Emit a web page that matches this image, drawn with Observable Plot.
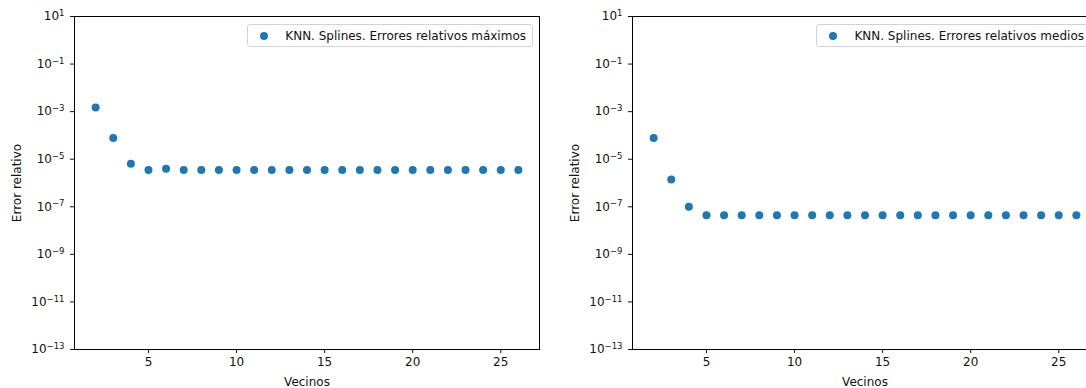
<!DOCTYPE html>
<html>
<head>
<meta charset="utf-8">
<script src="https://cdn.jsdelivr.net/npm/d3@7"></script>
<script src="https://cdn.jsdelivr.net/npm/@observablehq/plot@0.6"></script>
<style>
  html, body { margin: 0; padding: 0; background: #fff; }
  #fig { position: relative; width: 1086px; height: 388px; overflow: hidden; font-family: "DejaVu Sans", sans-serif; }
  .panel { position: absolute; top: 0; width: 560px; height: 388px; }
  .panel svg { max-width: none !important; }
  .legend {
    position: absolute; top: 24px; height: 23px; box-sizing: border-box;
    border: 1px solid #d3d3d3; border-radius: 3px; background: rgba(255,255,255,0.8);
    display: flex; align-items: center; font-size: 12px; color: #111; white-space: nowrap;
    padding-right: 6px;
  }
  .legend .sw { display: inline-block; width: 8px; height: 8px; border-radius: 50%; background: #1f77b4; margin: 0 17px 0 12px; }
</style>
</head>
<body>
<div id="fig"></div>
<script>
// Number of neighbours used by the KNN spline model
const vecinos = [2, 3, 4, 5, 6, 7, 8, 9, 10, 11, 12, 13, 14, 15, 16, 17, 18, 19, 20, 21, 22, 23, 24, 25, 26];

// Maximum relative error for each neighbour count
const erroresMaximos = [
  1.5e-3, 7.8e-5, 6.5e-6, 3.5e-6, 4.0e-6, 3.5e-6, 3.5e-6, 3.5e-6, 3.5e-6, 3.5e-6,
  3.5e-6, 3.5e-6, 3.5e-6, 3.5e-6, 3.5e-6, 3.5e-6, 3.5e-6, 3.5e-6, 3.5e-6, 3.5e-6,
  3.5e-6, 3.5e-6, 3.5e-6, 3.5e-6, 3.5e-6
];

// Mean relative error for each neighbour count
const erroresMedios = [
  7.8e-5, 1.4e-6, 1.0e-7, 4.4e-8, 4.4e-8, 4.4e-8, 4.4e-8, 4.4e-8, 4.4e-8, 4.4e-8,
  4.4e-8, 4.4e-8, 4.4e-8, 4.4e-8, 4.4e-8, 4.4e-8, 4.4e-8, 4.4e-8, 4.4e-8, 4.4e-8,
  4.4e-8, 4.4e-8, 4.4e-8, 4.4e-8, 4.4e-8
];

const xTicks = [5, 10, 15, 20, 25];
const yTicks = [1e1, 1e-1, 1e-3, 1e-5, 1e-7, 1e-9, 1e-11, 1e-13];

const leyendas = [
  "KNN. Splines. Errores relativos máximos",
  "KNN. Splines. Errores relativos medios"
];

const fig = document.getElementById("fig");

function panel(values, svgLeft, legendText) {
  const data = vecinos.map((v, i) => ({v, e: values[i]}));
  const chart = Plot.plot({
    width: 560,
    height: 388,
    marginLeft: 74,
    marginRight: 21,
    marginTop: 16,
    marginBottom: 39,
    style: {fontFamily: "DejaVu Sans, sans-serif", fontSize: "12px", color: "#111", background: "transparent", maxWidth: "none"},
    x: {domain: [0.8, 27.2]},
    y: {type: "log", domain: [1e-13, 1e1]},
    marks: [
      Plot.axisX({
        ticks: xTicks, tickSize: 4, tickPadding: 4, tickFormat: d => String(d),
        label: "Vecinos", labelAnchor: "center", labelOffset: 36, labelArrow: "none"
      }),
      Plot.axisY({
        ticks: yTicks, tickSize: 4, tickPadding: 6,
        tickFormat: d => "10^" + String(Math.round(Math.log10(d))).replace("-", "\u2212"),
        label: "Error relativo", labelAnchor: "center", labelOffset: 62, labelArrow: "none"
      }),
      Plot.frame({stroke: "#000", strokeWidth: 1}),
      Plot.dot(data, {x: "v", y: "e", r: 4, fill: "#1f77b4", stroke: "none"})
    ]
  });

  // Render the power-of-ten tick labels with a raised exponent
  d3.select(chart).selectAll('g[aria-label="y-axis tick label"] text').each(function () {
    const parts = this.textContent.split("^");
    if (parts.length !== 2) return;
    const t = d3.select(this);
    t.text(null);
    t.append("tspan").text(parts[0]);
    t.append("tspan").attr("font-size", "8.5px").attr("dy", "-0.5em").text(parts[1]);
  });

  const wrap = document.createElement("div");
  wrap.className = "panel";
  wrap.style.left = svgLeft + "px";
  wrap.appendChild(chart);
  fig.appendChild(wrap);

  const leg = document.createElement("div");
  leg.className = "legend";
  // upper-right placement, inset 6px from the plot frame
  const frameRight = svgLeft + 560 - 21;
  leg.style.right = (1086 - (frameRight - 6)) + "px";
  const sw = document.createElement("span");
  sw.className = "sw";
  leg.appendChild(sw);
  leg.appendChild(document.createTextNode(legendText));
  fig.appendChild(leg);
}

panel(erroresMaximos, 0, leyendas[0]);
panel(erroresMedios, 558, leyendas[1]);
</script>
</body>
</html>
